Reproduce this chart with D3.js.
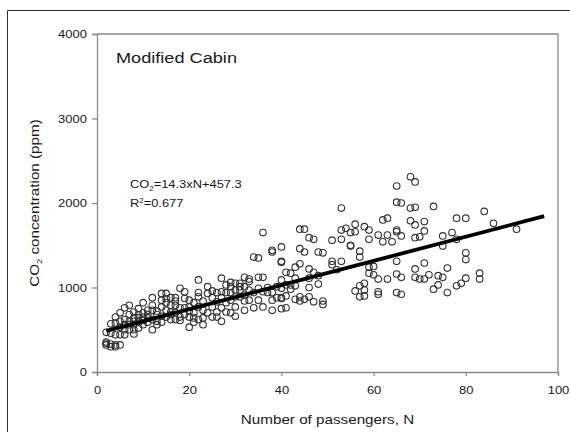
<!DOCTYPE html>
<html>
<head>
<meta charset="utf-8">
<script src="https://cdn.jsdelivr.net/npm/d3@7"></script>
<style>
  body { margin: 0; background: #fff; }
  svg { display: block; font-family: "Liberation Sans", Arial, sans-serif; }
</style>
</head>
<body>
<div id="wrapper"></div>
<script>
// scatter data: one entry per passenger count
const nValues = [2,3,4,5,6,7,8,9,10,11,12,13,14,15,16,17,18,19,20,21,22,23,24,25,26,27,28,29,30,31,32,33,34,35,36,37,38,39,40,41,42,43,44,45,46,47,48,49,51,52,53,54,55,56,57,58,59,60,61,62,63,64,65,66,68,69,70,71,72,73,74,75,76,77,78,79,80,83,84,86,91]
const co2Groups = [
  [340,320,355,470],
  [330,460,570,300],
  [320,440,580,650,300],
  [320,530,440,700,600],
  [440,500,560,620,760],
  [500,790,600,680,560],
  [500,710,640,560,600,450],
  [590,680,750,640,520],
  [820,560,650,700,610],
  [640,730,590,680],
  [730,880,500,620,790],
  [560,680,720,600],
  [590,770,930,660,850],
  [930,820,730,650,870],
  [880,790,710,620,680],
  [880,790,700,620,840],
  [990,650,760,610],
  [950,870,760,680],
  [850,770,650,530,720],
  [820,640,590,700],
  [1090,890,770,620,940],
  [730,640,840,560],
  [1010,930,700],
  [880,770,650,960],
  [830,710,650,940],
  [1110,950,880,760,600],
  [1030,940,820,710],
  [1010,940,850,700,1060],
  [770,1050,970,890,660],
  [1050,970,890,1010],
  [730,1120,1010,910,840],
  [1070,970,850,1100],
  [1360,940,760],
  [1120,1350,990,850],
  [1650,1120,770,950],
  [940,1000],
  [1440,1420,730,850,940],
  [1010,880],
  [1480,1300,1310,990,880,1090,870,750],
  [1030,1180,760,900],
  [1170,1030,980],
  [1240,1110,860,1020],
  [1460,1280,1690,890,840],
  [1420,1690,860],
  [1590,1220,1110,890,1000],
  [1570,1180,830],
  [1420,1140,1040],
  [1410,840,800],
  [1560,1310,1270],
  [1210],
  [1940,1570,1680,1310],
  [1700],
  [1650,1490,1500],
  [1750,1660,960],
  [1430,1360,1020,890],
  [1720,1050,970,900],
  [1680,1570,1240,1170],
  [1250,1150],
  [1620,1100,950,920],
  [1540,1800],
  [1820,1620,1100],
  [1540],
  [2200,1680,1660,1310,1160,940,2010],
  [1610,1120,920,2000],
  [2310,1940,1790],
  [2250,1950,1590,1220,1120,1740],
  [1600,1100],
  [1780,1670,1290,1100],
  [1150],
  [1960,980],
  [1140,1030],
  [1610,1490,1120],
  [1230,940],
  [1650],
  [1820,1570,1020],
  [1050],
  [1820,1410,1330,1110],
  [1170,1100],
  [1900],
  [1760],
  [1690]
]

// fitted line from the chart annotation
const slope = 14.3
const intercept = 457.3
const fitRange = [2, 97]

const xTicks = [0, 20, 40, 60, 80, 100]
const yTicks = [0, 1000, 2000, 3000, 4000]

const points = []
nValues.forEach((n, i) => co2Groups[i].forEach(v => points.push({ n: n, co2: v })))

const dims = {
  width: 570,
  height: 432,
  left: 97,
  right: 558,
  top: 34,
  bottom: 372,
}

// the original's lettering is a little wider than Arial, so stretch it
function stretch(sel, k) {
  sel.each(function () {
    const w = this.getComputedTextLength()
    d3.select(this)
      .attr("textLength", w * k)
      .attr("lengthAdjust", "spacingAndGlyphs")
  })
}

const svg = d3.select("#wrapper")
  .append("svg")
    .attr("width", dims.width)
    .attr("height", dims.height)

// outer frame (only left and top edges show in the picture)
svg.append("path")
  .attr("d", `M7.5,${dims.height}V10.5H${dims.width}`)
  .attr("fill", "none")
  .attr("stroke", "#333")
  .attr("stroke-width", 1)

const xScale = d3.scaleLinear().domain([0, 100]).range([dims.left, dims.right])
const yScale = d3.scaleLinear().domain([0, 4000]).range([dims.bottom, dims.top])

// plot frame top and right
svg.append("path")
  .attr("d", `M${dims.left},${dims.top}H${dims.right}V${dims.bottom}`)
  .attr("fill", "none")
  .attr("stroke", "#8a8a8a")
  .attr("stroke-width", 1.3)

const yAxis = svg.append("g")
  .attr("transform", `translate(${dims.left},0)`)
  .call(d3.axisLeft(yScale).tickValues(yTicks).tickSize(5).tickPadding(5).tickFormat(d3.format("d")))
const xAxis = svg.append("g")
  .attr("transform", `translate(0,${dims.bottom})`)
  .call(d3.axisBottom(xScale).tickValues(xTicks).tickSize(4).tickPadding(10))

;[xAxis, yAxis].forEach(ax => {
  ax.select(".domain").attr("stroke", "#8a8a8a").attr("stroke-width", 1.3)
  ax.selectAll(".tick line").attr("stroke", "#8a8a8a").attr("stroke-width", 1.3)
  ax.selectAll(".tick text")
    .attr("fill", "#1a1a1a")
    .style("font-size", "11px")
    .style("font-family", "'Liberation Sans', Arial, sans-serif")
    .call(stretch, 1.18)
})

// scatter circles
svg.append("g")
  .selectAll("circle")
  .data(points)
  .join("circle")
    .attr("cx", d => xScale(d.n))
    .attr("cy", d => yScale(d.co2))
    .attr("r", 3.3)
    .attr("fill", "none")
    .attr("stroke", "#333")
    .attr("stroke-width", 1.1)

// regression line
const lineGenerator = d3.line()
  .x(d => xScale(d))
  .y(d => yScale(slope * d + intercept))
svg.append("path")
  .attr("d", lineGenerator(fitRange))
  .attr("fill", "none")
  .attr("stroke", "#000")
  .attr("stroke-width", 3.8)

// panel label
svg.append("text")
  .attr("x", 116)
  .attr("y", 63)
  .attr("fill", "#1a1a1a")
  .style("font-size", "15.5px")
  .text("Modified Cabin")
  .call(stretch, 1.17)

// equation annotation
const eq = svg.append("text")
  .attr("x", 130)
  .attr("y", 188)
  .attr("fill", "#1a1a1a")
  .style("font-size", "11.5px")
eq.append("tspan").text("CO")
eq.append("tspan").attr("dy", 3).style("font-size", "7px").text("2")
eq.append("tspan").attr("dy", -3).text("=14.3xN+457.3")
eq.call(stretch, 1.12)

const r2 = svg.append("text")
  .attr("x", 130)
  .attr("y", 207)
  .attr("fill", "#1a1a1a")
  .style("font-size", "11.5px")
r2.append("tspan").text("R")
r2.append("tspan").attr("dy", -4).style("font-size", "7px").text("2")
r2.append("tspan").attr("dy", 4).text("=0.677")
r2.call(stretch, 1.12)

// axis titles
svg.append("text")
  .attr("x", (dims.left + dims.right) / 2)
  .attr("y", 424)
  .attr("text-anchor", "middle")
  .attr("fill", "#1a1a1a")
  .style("font-size", "13px")
  .text("Number of passengers, N")
  .call(stretch, 1.17)

const yTitle = svg.append("text")
  .attr("transform", `translate(39,${(dims.top + dims.bottom) / 2}) rotate(-90)`)
  .attr("text-anchor", "middle")
  .attr("fill", "#1a1a1a")
  .style("font-size", "13px")
yTitle.append("tspan").text("CO")
yTitle.append("tspan").attr("dy", 3).style("font-size", "8px").text("2")
yTitle.append("tspan").attr("dy", -3).text(" concentration (ppm)")
yTitle.call(stretch, 1.17)
</script>
</body>
</html>
